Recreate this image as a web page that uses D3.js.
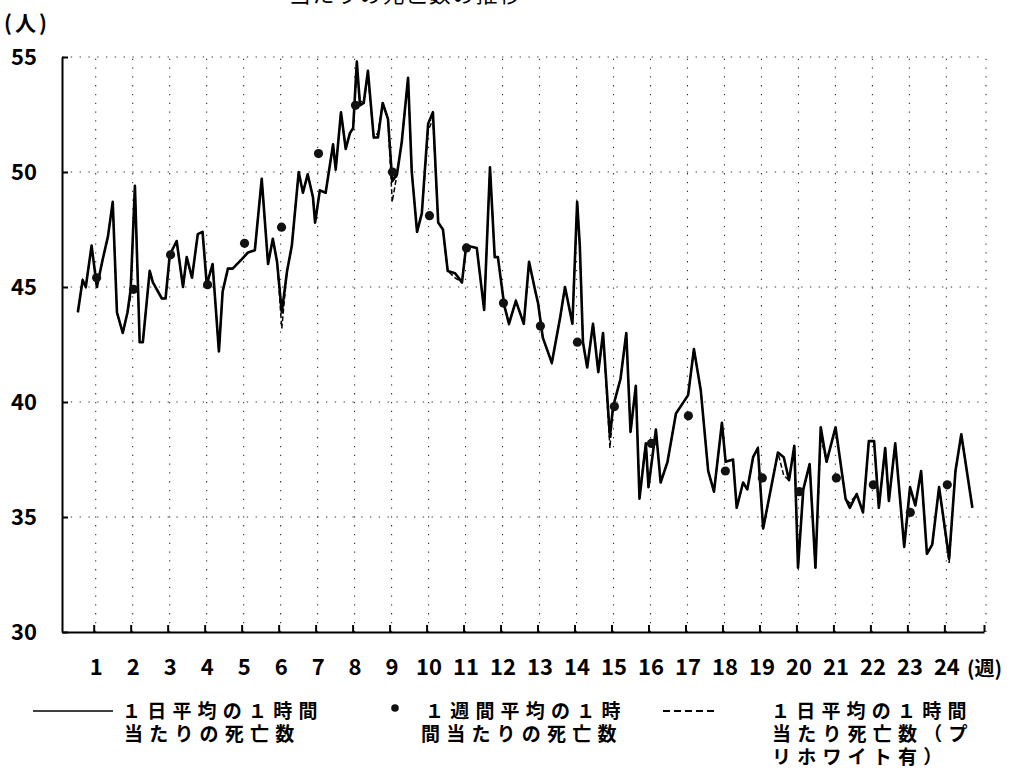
<!DOCTYPE html>
<html><head><meta charset="utf-8">
<script src="https://cdn.jsdelivr.net/npm/d3@7/dist/d3.min.js"></script>
<style>
html,body{margin:0;padding:0;background:#fff;}
text{font-family:"Noto Sans CJK JP","Noto Sans",sans-serif;fill:#000;}
</style></head>
<body>
<script>
// ---- data ----
const yTicks = [30, 35, 40, 45, 50, 55];
const weeks = [1,2,3,4,5,6,7,8,9,10,11,12,13,14,15,16,17,18,19,20,21,22,23,24];
const weeklyAvg = [45.4,44.9,46.4,45.1,46.9,47.6,50.8,52.9,50.0,48.1,46.7,44.3,43.3,42.6,39.8,38.2,39.4,37.0,36.7,36.1,36.7,36.4,35.2,36.4];

// day positions of the traced vertices
const days = [
 4.0,4.9,5.5,6.6,7.6,8.7,9.7,10.6,11.4,12.5,13.4,14.0,14.8,15.7,16.3,17.6,18.2,19.9,20.6,21.4,
 22.7,23.9,24.6,25.6,26.7,27.6,28.4,29.5,30.7,31.4,32.4,33.3,35.0,36.2,37.5,38.8,40.0,40.9,41.7,42.6,
 43.6,44.5,45.8,46.6,47.5,48.5,48.9,49.8,50.9,52.3,52.8,53.8,54.7,55.5,56.1,56.8,57.4,58.1,58.9,60.0,
 60.8,61.7,62.7,63.5,64.4,65.3,66.5,67.2,68.2,69.1,70.3,71.2,72.2,73.1,74.0,75.4,76.7,77.5,79.5,80.9,
 82.0,82.9,83.5,84.7,85.6,86.9,88.4,89.4,90.5,91.1,92.0,93.7,95.3,96.2,97.6,98.5,99.0,99.6,100.4,101.5,
 102.5,103.4,104.7,105.3,106.7,107.8,108.6,109.6,110.3,111.5,112.0,113.4,114.3,115.6,117.2,119.5,120.6,121.9,123.3,124.4,
 125.9,126.6,128.0,128.7,129.9,130.7,131.8,132.7,133.7,136.5,137.6,138.6,139.6,140.3,141.3,142.5,143.6,144.6,145.7,147.4,
 149.3,150.1,151.4,152.6,153.7,154.7,155.6,156.8,157.5,158.7,160.4,161.5,162.5,163.6,164.7,165.7,167.0,168.9,170.1,171.2,
 173.3];

// 1日平均の1時間当たりの死亡数 (solid)
const dailyAvg = [
 43.9,45.3,45.0,46.8,45.0,46.2,47.2,48.7,43.9,43.0,43.9,44.9,49.4,42.6,42.6,45.7,45.2,44.5,44.5,46.4,
 47.0,45.0,46.3,45.4,47.3,47.4,45.1,46.0,42.2,44.8,45.8,45.8,46.2,46.5,46.6,49.7,46.0,47.1,46.1,43.9,
 45.7,46.8,50.0,49.1,49.9,48.9,47.8,49.2,49.1,51.2,50.1,52.6,51.0,51.7,51.9,54.8,52.9,53.0,54.4,51.5,
 51.5,53.0,52.3,49.6,49.9,51.3,54.1,50.0,47.4,48.2,52.1,52.6,47.8,47.5,45.7,45.6,45.2,46.8,46.7,44.0,
 50.2,46.3,46.3,44.2,43.4,44.4,43.4,46.1,44.9,44.3,42.8,41.7,43.7,45.0,43.4,48.7,46.8,42.6,41.5,43.4,
 41.3,43.0,38.5,39.8,41.0,43.0,38.7,40.7,35.8,38.2,36.3,38.8,36.5,37.4,39.5,40.3,42.3,40.5,37.0,36.1,
 39.1,37.4,37.5,35.4,36.5,36.2,37.6,38.0,34.5,37.8,37.6,36.6,38.1,32.8,36.2,37.3,32.8,38.9,37.4,38.9,
 35.8,35.4,36.0,35.2,38.3,38.3,35.4,38.0,35.7,38.2,33.7,36.3,35.5,37.0,33.4,33.8,36.3,33.2,37.0,38.6,
 35.4];

// 1日平均の1時間当たり死亡数（プリホワイト有） (dashed)
const prewhitened = [
 43.9,45.3,45.0,46.8,45.0,46.2,47.2,48.7,43.9,43.0,43.9,44.6,49.4,42.6,42.6,45.7,45.2,44.5,44.5,46.4,
 47.0,45.0,46.3,45.4,47.3,47.4,45.1,46.0,42.2,44.8,45.8,45.8,46.2,46.5,46.6,49.7,46.0,47.1,46.1,43.2,
 45.7,46.8,50.0,49.1,49.9,48.9,47.8,49.2,49.1,51.2,50.1,52.6,51.0,51.7,51.9,54.5,53.1,53.0,54.2,51.5,
 51.7,53.0,52.3,48.7,49.9,51.3,54.1,50.0,47.4,48.2,51.8,52.3,47.8,47.5,45.7,45.4,45.2,46.8,46.7,44.0,
 50.2,46.3,46.3,44.2,43.4,44.4,43.4,46.1,44.9,44.3,42.8,41.7,43.7,45.0,43.4,48.7,46.8,42.6,41.5,43.4,
 41.3,43.0,38.0,39.8,41.0,43.0,38.7,40.7,36.0,38.2,36.3,38.8,36.5,37.4,39.5,40.3,42.3,40.5,37.0,36.1,
 39.1,37.4,37.5,35.4,36.5,36.2,37.6,38.0,34.5,37.8,36.8,36.6,38.1,32.8,36.2,37.3,32.8,38.5,37.4,38.9,
 35.8,35.6,36.0,35.2,38.3,38.3,35.4,38.0,35.7,38.2,33.7,36.3,35.5,37.0,33.4,33.8,36.3,33.0,37.0,38.6,
 35.4];

// ---- chart ----
const W = 1020, H = 774;
const svg = d3.select("body").append("svg").attr("width", W).attr("height", H);
svg.append("rect").attr("width", W).attr("height", H).attr("fill", "#fff");

const x = d3.scaleLinear().domain([1, 175.5]).range([62, 984]);
const y = d3.scaleLinear().domain([30, 55]).range([632, 57]);
const weekDay = w => 7 * w;

// title (cut off at the top edge, as in the scan)
svg.append("text").attr("x", 289).attr("y", 2).attr("font-size", 22)
  .attr("letter-spacing", 1.3).text("当たりの死亡数の推移");

// dotted grid
const grid = svg.append("g").attr("stroke", "#333").attr("stroke-width", 1.1)
  .attr("stroke-dasharray", "1.3,7.5");
grid.selectAll("line.h").data(yTicks.filter(v => v > 30)).join("line")
  .attr("x1", x(1)).attr("x2", x(175.5)).attr("y1", d => y(d)).attr("y2", d => y(d));
grid.selectAll("line.v").data(weeks.map(weekDay).concat([175.5])).join("line")
  .attr("x1", d => x(d) + 2).attr("x2", d => x(d) + 2).attr("y1", y(30)).attr("y2", y(55));

// axes
const yAxis = svg.append("g").attr("transform", `translate(${x(1)},0)`)
  .call(d3.axisLeft(y).tickValues(yTicks).tickSize(-6).tickSizeOuter(0).tickPadding(25));
const xAxis = svg.append("g").attr("transform", `translate(0,${y(30)})`)
  .call(d3.axisBottom(x).tickValues(weeks.map(weekDay).concat([175.5]))
    .tickSize(-7).tickSizeOuter(0).tickPadding(27)
    .tickFormat(d => d > 170 ? "" : String(d / 7)));
[yAxis, xAxis].forEach(a => {
  a.selectAll("path.domain").attr("stroke", "#000").attr("stroke-width", 2);
  a.selectAll(".tick line").attr("stroke", "#000").attr("stroke-width", 2);
  a.selectAll("text").attr("font-size", 22).attr("font-weight", "bold")
    .style("font-family", '"Noto Sans CJK JP", sans-serif');
});
xAxis.selectAll("text").attr("dx", 2);
yAxis.selectAll("text").attr("dy", "0.36em");

// unit labels
svg.append("text").attr("x", 4).attr("y", 31).attr("font-size", 21)
  .attr("font-weight", "bold").text("(人)").attr("letter-spacing", 3);
svg.append("text").attr("x", 967).attr("y", 676).attr("font-size", 20)
  .attr("font-weight", "bold").text("(週)");

// series lines
const pts = days.map((d, i) => [d, dailyAvg[i], prewhitened[i]]);
const line1 = d3.line().x(d => x(d[0])).y(d => y(d[1]));
const line2 = d3.line().x(d => x(d[0])).y(d => y(d[2]));
svg.append("path").datum(pts).attr("d", line2).attr("fill", "none")
  .attr("stroke", "#000").attr("stroke-width", 1.5).attr("stroke-dasharray", "5,2.5");
svg.append("path").datum(pts).attr("d", line1).attr("fill", "none")
  .attr("stroke", "#000").attr("stroke-width", 2.6).attr("stroke-linejoin", "round");

// weekly dots
svg.selectAll("circle.wk").data(weeks).join("circle")
  .attr("cx", w => x(weekDay(w) + 0.55)).attr("cy", (w, i) => y(weeklyAvg[i]))
  .attr("r", 4.6).attr("fill", "#111");

// legend
const lg = svg.append("g");
lg.append("line").attr("x1", 33).attr("x2", 113).attr("y1", 711).attr("y2", 711)
  .attr("stroke", "#000").attr("stroke-width", 1.6);
lg.append("circle").attr("cx", 395).attr("cy", 708).attr("r", 3.8).attr("fill", "#111");
lg.append("line").attr("x1", 663).attr("x2", 718).attr("y1", 711).attr("y2", 711)
  .attr("stroke", "#000").attr("stroke-width", 2).attr("stroke-dasharray", "7,4");
const legendText = [
  [122, 718, "１日平均の１時間"], [124, 741, "当たりの死亡数"],
  [425, 718, "１週間平均の１時"], [421, 741, "間当たりの死亡数"],
  [771, 718, "１日平均の１時間"], [772, 741, "当たり死亡数（プ"], [772, 764, "リホワイト有）"]
];
lg.selectAll("text").data(legendText).join("text")
  .attr("x", d => d[0]).attr("y", d => d[1]).attr("font-size", 19)
  .attr("font-weight", "bold").attr("letter-spacing", 6.2).text(d => d[2]);
</script>
</body></html>
